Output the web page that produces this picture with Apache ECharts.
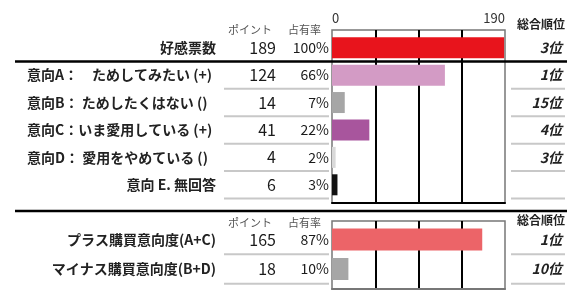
<!DOCTYPE html>
<html><head><meta charset="utf-8">
<script src="https://cdn.jsdelivr.net/npm/echarts@6/dist/echarts.min.js"></script>
<style>html,body{margin:0;padding:0;background:#fff}#c{width:588px;height:303px}</style>
</head><body><div id="c"></div>
<script>
// ---- data ----
const topLabels = ['好感票数','意向A：　ためしてみたい (+)','意向B： ためしたくはない ()','意向C：いま愛用している (+)','意向D： 愛用をやめている ()','意向 E. 無回答'];
const topPoints = [189,124,14,41,4,6];
const topShares = ['100%','66%','7%','22%','2%','3%'];
const topRanks = ['3位','1位','15位','4位','3位',''];
const bottomLabels = ['プラス購買意向度(A+C)','マイナス購買意向度(B+D)'];
const bottomPoints = [165,18];
const bottomShares = ['87%','10%'];
const bottomRanks = ['1位','10位'];
const axisMin = 0;
const axisMax = 190;
const headerLabels = ['ポイント','占有率','総合順位'];
// ---- styles ----
const topColors = ['#E8141C','#D39BC5','#A6A6A6','#A8559D','#D9D9D9','#111111'];
const bottomColors = ['#EC6468','#A6A6A6'];
const FONT = "'Noto Sans CJK JP', 'Noto Sans', sans-serif";
const leftAligned = s => /^意向[A-D]/.test(s);

const chart = echarts.init(document.getElementById('c'), null, {renderer:'canvas'});
const GL = 332, GW = 173;

function labelAxes(gridIndex, labels, points, shares, ranks){
  const base = {type:'category', gridIndex, inverse:true, axisLine:{show:false}, axisTick:{show:false}, splitLine:{show:false}};
  return [
    Object.assign({}, base, {data:labels, axisLabel:{show:false}}),
    Object.assign({}, base, {data:labels, position:'left', offset:116, axisLabel:{interval:0, margin:0, align:'right', fontFamily:FONT, fontSize:14, fontWeight:'bold', color:'#222', formatter:v=>leftAligned(v)?'':v}}),
    Object.assign({}, base, {data:labels, position:'left', offset:305, axisLabel:{interval:0, margin:0, align:'left', fontFamily:FONT, fontSize:14, fontWeight:'bold', color:'#222', formatter:v=>leftAligned(v)?v:''}}),
    Object.assign({}, base, {data:points.map(String), position:'left', offset:56, axisLabel:{interval:0, margin:0, align:'right', fontFamily:FONT, fontSize:16, color:'#1a1a1a'}}),
    Object.assign({}, base, {data:shares, position:'left', offset:3, axisLabel:{interval:0, margin:0, align:'right', fontFamily:FONT, fontSize:14, color:'#1a1a1a'}}),
    Object.assign({}, base, {data:ranks, position:'right', offset:57, axisLabel:{interval:0, margin:0, align:'right', fontFamily:FONT, fontSize:14, fontStyle:'italic', fontWeight:'bold', color:'#222'}})
  ];
}

const hiddenX = gi => ({type:'value', gridIndex:gi, min:axisMin, max:axisMax, show:false});
const frameX = (gi, topColor, showLabels) => ({
  type:'value', gridIndex:gi, min:axisMin, max:axisMax, interval:(axisMax-axisMin)/4, position:'top',
  axisLine:{show:true, lineStyle:{color:topColor, width:2}}, axisTick:{show:false},
  axisLabel:{show:showLabels, margin:5, fontFamily:FONT, fontSize:13, color:'#333',
    alignMinLabel:'left', alignMaxLabel:'right',
    formatter:v=> (v===axisMin||v===axisMax) ? String(v) : ''},
  splitLine:{show:true, lineStyle:{color:['transparent','#000','#000','#000','transparent'], width:2}}
});

const yTop = labelAxes(0, topLabels, topPoints, topShares, topRanks);
const yBot = labelAxes(2, bottomLabels, bottomPoints, bottomShares, bottomRanks);

const option = {
  animation:false,
  backgroundColor:'#fff',
  grid:[
    {left:GL, width:GW, top:34, height:164.5},
    {left:GL, width:GW, top:30, height:173, show:true, borderColor:'#777', borderWidth:1.5},
    {left:GL, width:GW, top:224.75, height:59},
    {left:GL, width:GW, top:221, height:68, show:true, borderColor:'#777', borderWidth:1.5}
  ],
  xAxis:[hiddenX(0), frameX(1,'#000',true), hiddenX(2), frameX(3,'#777',false)],
  yAxis:[].concat(yTop, [{type:'value', gridIndex:1, show:false}], yBot, [{type:'value', gridIndex:3, show:false}]),
  series:[
    {type:'bar', xAxisIndex:0, yAxisIndex:0, barWidth:21, z:5,
     data: topPoints.map((v,i)=>({value:v, itemStyle:{color:topColors[i]}}))},
    {type:'bar', xAxisIndex:2, yAxisIndex:7, barWidth:22, z:5,
     data: bottomPoints.map((v,i)=>({value:v, itemStyle:{color:bottomColors[i]}}))}
  ]
};
chart.setOption(option);

// separators & headers
const g = [];
function rowBounds(yAxisIndex, n){
  const c0 = chart.convertToPixel({yAxisIndex}, 0);
  const c1 = chart.convertToPixel({yAxisIndex}, 1);
  const band = c1 - c0;
  const out = [];
  for (let i=0;i<n;i++) out.push(chart.convertToPixel({yAxisIndex}, i) + band/2);
  return out;
}
const hline = (x1,x2,y,color,w)=>({type:'line', shape:{x1,y1:y,x2,y2:y}, style:{stroke:color, lineWidth:w}, z:10});
const tb = rowBounds(0, topLabels.length);
tb.forEach((y,i)=>{
  if (i===0) g.push(hline(15,567,y,'#000',2.5));
  else { g.push(hline(224,329,y,'#C8C8C8',2)); g.push(hline(511,565,y,'#C8C8C8',2)); }
});
g.push(hline(15,567,211,'#000',2.5));
const bb = rowBounds(7, bottomLabels.length);
bb.forEach(y=>{ g.push(hline(224,329,y,'#C8C8C8',2)); g.push(hline(511,565,y,'#C8C8C8',2)); });

const txt = (x,y,t,opt)=>Object.assign({type:'text', x, y, style:Object.assign({text:t, fontFamily:FONT, fontSize:11, fill:'#555', textVerticalAlign:'middle', textAlign:'left'}, opt||{}), z:10});
[30, 222.5].forEach((y,k)=>{
  g.push(txt(228, y, headerLabels[0]));
  g.push(txt(288, y, headerLabels[1]));
  g.push(txt(517, y-(k?2:6), headerLabels[2], {fontSize:12, fontWeight:'bold', fill:'#222'}));
});
chart.setOption({graphic:g});
</script></body></html>
